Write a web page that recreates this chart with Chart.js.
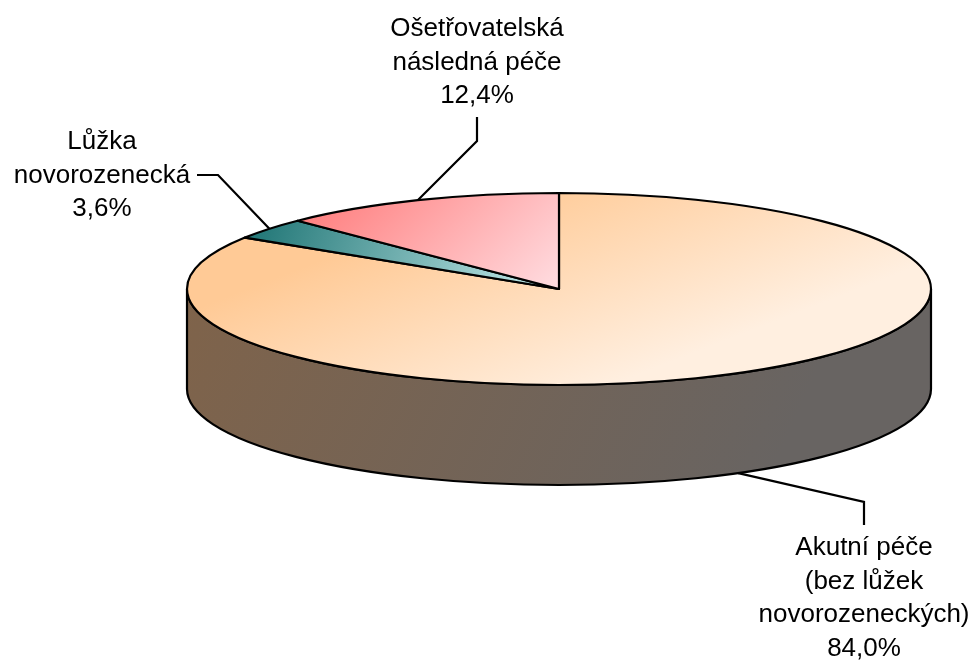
<!DOCTYPE html>
<html>
<head>
<meta charset="utf-8">
<script src="https://cdn.jsdelivr.net/npm/chart.js@4"></script>
<style>
  html, body { margin: 0; background: #fff; }
  #wrap { width: 976px; height: 661px; }
</style>
</head>
<body>
<div id="wrap"><canvas id="pie"></canvas></div>
<script>
const categories = ['Akutní péče (bez lůžek novorozeneckých)', 'Lůžka novorozenecká', 'Ošetřovatelská následná péče'];
const shares = [84.0, 3.6, 12.4];
const labelLines = [
    ['Akutní péče', '(bez lůžek', 'novorozeneckých)'],
    ['Lůžka', 'novorozenecká'],
    ['Ošetřovatelská', 'následná péče']
];

// look of the flat 3d pie
const STRETCH = 3.875;   // rx / ry
const DEPTH = 100;
const topColors = [['#ffca96', '#ffefe0'], ['#267a7a', '#b0dcdc'], ['#ff8080', '#ffdce0']];
const sideColors = [['#7f634a', '#686462'], ['#1c5a5a', '#4f8080'], ['#b85a5a', '#a07070']];

// leader elbow / end and text anchor for each label
const labelLayout = [
    { elbow: [864, 502], end: [864, 525], tx: 864, ty: 548 },
    { elbow: [218, 175], end: [197, 175], tx: 102, ty: 142 },
    { elbow: [477, 141], end: [477, 117], tx: 477, ty: 29 }
];
const LINE_H = 33.5;

function frontRanges(s, e) {
    const out = [];
    for (let k = -1; k <= 1; k++) {
        const a = Math.max(s, 2 * Math.PI * k), b = Math.min(e, 2 * Math.PI * k + Math.PI);
        if (b > a) out.push([a, b]);
    }
    return out;
}

const pie3d = {
    id: 'pie3d',
    beforeDatasetsDraw(chart) {
        const ctx = chart.ctx;
        const arcs = chart.getDatasetMeta(0).data;
        const cx = arcs[0].x, cy = arcs[0].y;
        const ry = arcs[0].outerRadius, rx = ry * STRETCH;
        ctx.save();
        ctx.lineWidth = 2.2;
        ctx.strokeStyle = '#000';
        ctx.lineJoin = 'round';

        // walls
        arcs.forEach((a, i) => {
            frontRanges(a.startAngle, a.endAngle).forEach(([s, e]) => {
                const g = ctx.createLinearGradient(cx - rx, cy, cx + rx * 0.5, cy + ry + DEPTH * 1.5);
                g.addColorStop(0, sideColors[i][0]);
                g.addColorStop(1, sideColors[i][1]);
                ctx.fillStyle = g;
                ctx.beginPath();
                ctx.ellipse(cx, cy, rx, ry, 0, s, e);
                ctx.ellipse(cx, cy + DEPTH, rx, ry, 0, e, s, true);
                ctx.closePath();
                ctx.fill();
                ctx.stroke();
            });
        });

        // tops
        arcs.forEach((a, i) => {
            let g;
            if (i === 0) g = ctx.createLinearGradient(cx - 40, cy - ry * 1.1, cx + 40, cy + ry * 1.05);
            else if (i === 1) g = ctx.createLinearGradient(cx - rx * 0.8, cy - ry * 0.6, cx - rx * 0.15, cy + ry * 0.2);
            else g = ctx.createLinearGradient(cx - rx * 0.62, cy - ry, cx - rx * 0.2, cy + ry * 0.7);
            g.addColorStop(0, topColors[i][0]);
            g.addColorStop(1, topColors[i][1]);
            ctx.fillStyle = g;
            ctx.beginPath();
            ctx.moveTo(cx, cy);
            ctx.ellipse(cx, cy, rx, ry, 0, a.startAngle, a.endAngle);
            ctx.closePath();
            ctx.fill();
            ctx.stroke();
        });
        ctx.restore();
        return false;
    },
    afterDraw(chart) {
        const ctx = chart.ctx;
        const arcs = chart.getDatasetMeta(0).data;
        const cx = arcs[0].x, cy = arcs[0].y;
        const ry = arcs[0].outerRadius, rx = ry * STRETCH;
        ctx.save();
        ctx.lineWidth = 2.2;
        ctx.strokeStyle = '#000';
        ctx.fillStyle = '#000';
        ctx.font = '26px "Liberation Sans", Arial, sans-serif';
        ctx.textAlign = 'center';
        ctx.textBaseline = 'middle';
        arcs.forEach((a, i) => {
            const mid = (a.startAngle + a.endAngle) / 2;
            let ax = cx + rx * Math.cos(mid), ay = cy + ry * Math.sin(mid);
            if (Math.sin(mid) > 0) ay += DEPTH;
            const L = labelLayout[i];
            ctx.beginPath();
            ctx.moveTo(ax, ay);
            ctx.lineTo(L.elbow[0], L.elbow[1]);
            ctx.lineTo(L.end[0], L.end[1]);
            ctx.stroke();
            const lines = labelLines[i].concat(shares[i].toFixed(1).replace('.', ',') + '%');
            lines.forEach((t, k) => ctx.fillText(t, L.tx, L.ty + k * LINE_H));
        });
        ctx.restore();
    }
};

new Chart(document.getElementById('pie'), {
    type: 'pie',
    data: {
        labels: categories,
        datasets: [{ data: shares, borderWidth: 0, backgroundColor: topColors.map(c => c[0]) }]
    },
    options: {
        responsive: true,
        maintainAspectRatio: false,
        animation: false,
        layout: { padding: { left: 187, right: 45, top: 193, bottom: 276 } },
        plugins: { legend: { display: false }, tooltip: { enabled: false } }
    },
    plugins: [pie3d]
});
</script>
</body>
</html>
